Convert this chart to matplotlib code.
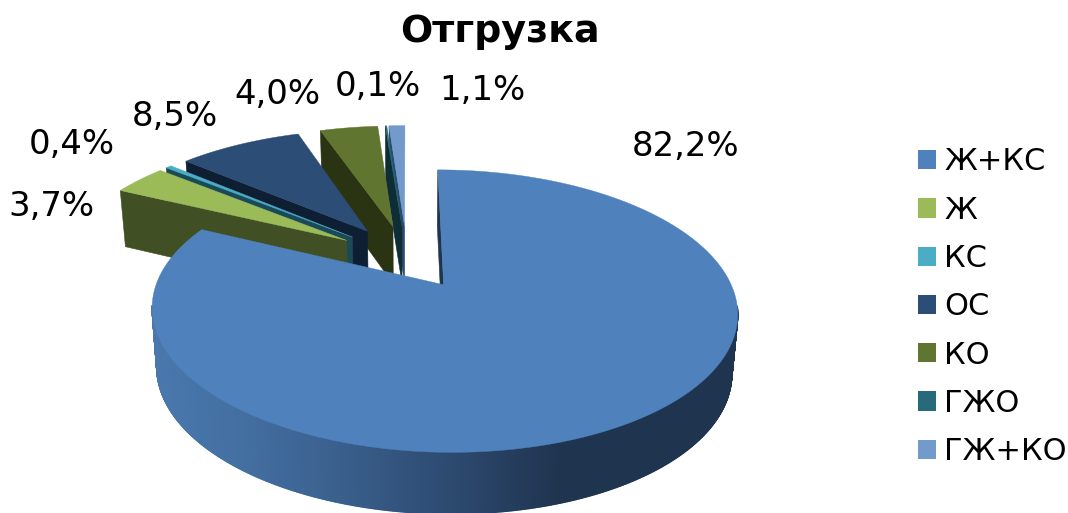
import numpy as np
import matplotlib
matplotlib.use("Agg")
import matplotlib.pyplot as plt
from matplotlib.collections import PolyCollection
from matplotlib.patches import Patch, Polygon
from matplotlib.colors import to_rgb

categories = ["Ж+КС", "Ж", "КС", "ОС", "КО", "ГЖО", "ГЖ+КО"]
shares = [82.2, 3.7, 0.4, 8.5, 4.0, 0.1, 1.1]
labels = ["82,2%", "3,7%", "0,4%", "8,5%", "4,0%", "0,1%", "1,1%"]
title = "Отгрузка"
top_colors = ["#4F81BD", "#9BBB59", "#4BACC6", "#2C4D75", "#5F7530", "#276A7C", "#729ACA"]
side_colors = ["#1F344F", "#404F24", "#1A4A58", "#0F1F33", "#2A3413", "#0F2D35", "#2E4A6C"]
explode = [0.24, 0.265, 0.265, 0.265, 0.265, 0.265, 0.265]
radius = [1.0, 1.025, 1.025, 1.025, 1.025, 1.025, 1.025]
label_pos = [(686, 147), (51, 207), (72, 144), (175, 116), (277, 94), (378, 86), (482, 91)]

# projection of the pie disc (perspective view from above)
CX, CY, A, S, K = 407.0, 258.0, 277.0, 126.5, 0.18
SHRINK = 0.982


def project(u, v, lower=False):
    u, v = np.asarray(u, float), np.asarray(v, float)
    w = 1.0 / (1.0 - K * v)
    x = A * u * w
    y = CY + S * v * w
    if lower:
        x = x * SHRINK
        y = y + 58 + 3 * v
    return CX + x, y


def disc(theta, du, dv, r=1.0):
    return du + r * np.sin(theta), dv - r * np.cos(theta)


fig = plt.figure(figsize=(10.68, 5.13), dpi=100)
ax = fig.add_axes([0, 0, 1, 1])
ax.set_xlim(0, 1068)
ax.set_ylim(513, 0)
ax.axis("off")

fractions = np.array(shares) / sum(shares)
edges = np.concatenate([[0], np.cumsum(fractions)]) * 2 * np.pi

order = list(range(len(shares) - 1, -1, -1))
for z, i in enumerate(order):
    t0, t1 = edges[i], edges[i + 1]
    mid = 0.5 * (t0 + t1)
    du, dv = explode[i] * np.sin(mid), -explode[i] * np.cos(mid)
    zo = 2 + z * 3

    # radial side wall on the leading edge of the slice
    ou, ov = disc(t0, du, dv, radius[i])
    xa, ya = project([ou, du], [ov, dv])
    xb, yb = project([du, ou], [dv, ov], lower=True)
    ax.add_patch(Polygon(np.column_stack([np.r_[xa, xb], np.r_[ya, yb]]),
                         closed=True, fc=side_colors[i], ec=side_colors[i], lw=0.4, zorder=zo))

    # outer wall, only where it faces the viewer
    th = np.linspace(t0, t1, max(int((t1 - t0) * 180), 3))
    if i == 0:
        quads, cols = [], []
        c_stops_x = [150, 240, 330, 450, 560, 740]
        c_stops = np.array([to_rgb(c) for c in
                            ["#4A78AE", "#436FA1", "#3B618F", "#2D4A70", "#1F344F", "#1F344F"]])
        for a, b in zip(th[:-1], th[1:]):
            if np.cos(a) > -0.15:
                continue
            ua, va = disc(a, du, dv)
            ub, vb = disc(b, du, dv)
            x1, y1 = project([ua, ub], [va, vb])
            x2, y2 = project([ub, ua], [vb, va], lower=True)
            quads.append(np.column_stack([np.r_[x1, x2], np.r_[y1, y2]]))
            xm = 0.5 * (x1[0] + x1[1])
            cols.append([np.interp(xm, c_stops_x, c_stops[:, k]) for k in range(3)])
        ax.add_collection(PolyCollection(quads, facecolors=cols, edgecolors=cols,
                                         linewidths=1.0, zorder=zo + 1))

    # top face
    tt = np.linspace(t0, t1, max(int((t1 - t0) * 180), 4))
    uu, vv = disc(tt, du, dv, radius[i])
    xt, yt = project(np.r_[du, uu], np.r_[dv, vv])
    ax.add_patch(Polygon(np.column_stack([xt, yt]), closed=True,
                         fc=top_colors[i], ec=top_colors[i], lw=0.3, zorder=zo + 2))

for lab, (lx, ly) in zip(labels, label_pos):
    ax.text(lx, ly, lab, fontsize=24.4, ha="center", va="center", color="black", zorder=100)

ax.text(500, 32, title, fontsize=27.4, fontweight="bold", ha="center", va="center", color="black")

handles = [Patch(fc=c, ec="none") for c in top_colors]
ax.legend(handles, categories, loc="upper left", bbox_to_anchor=(918, 147.5),
          bbox_transform=ax.transData, frameon=False, fontsize=22, borderpad=0,
          borderaxespad=0, handlelength=0.59, handleheight=0.59, handletextpad=0.26,
          labelspacing=0.63, labelcolor="black")

fig.savefig("out.png", dpi=100)
